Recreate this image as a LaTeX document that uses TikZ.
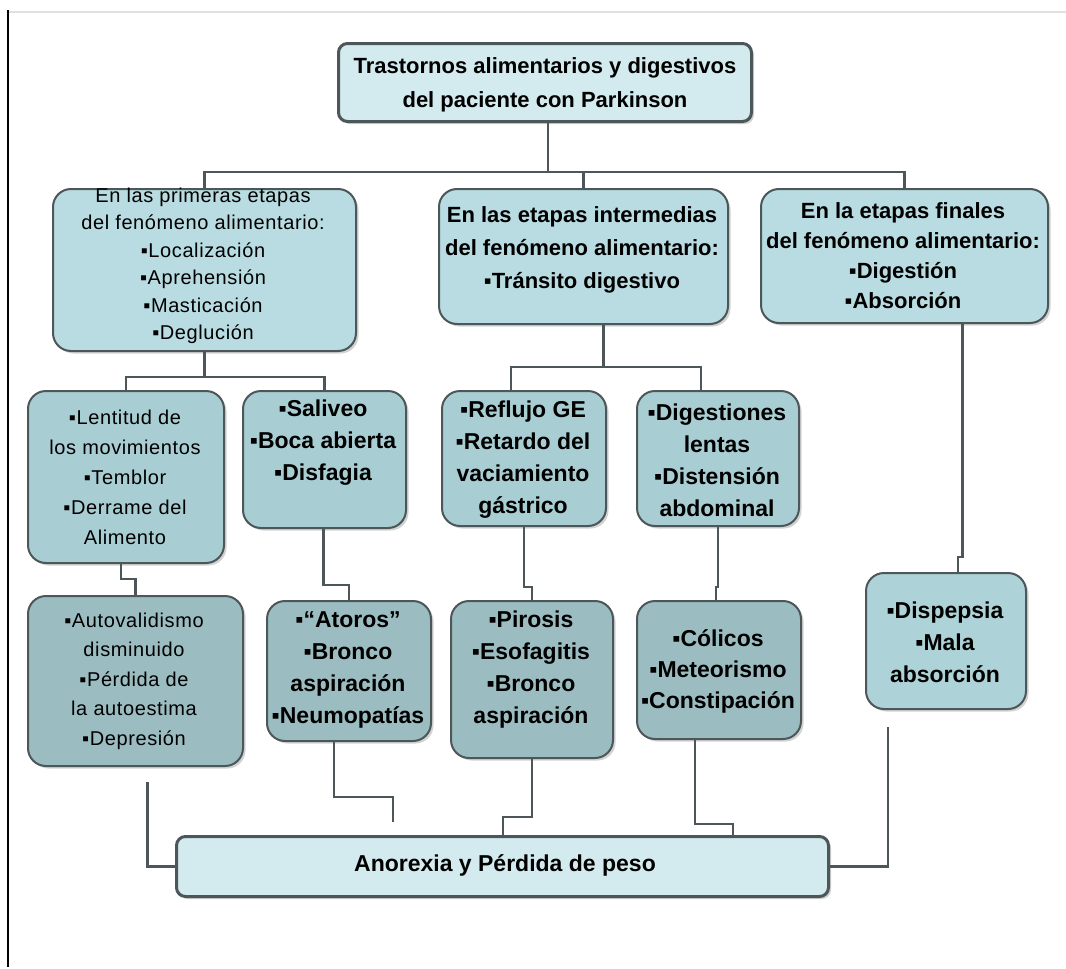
\documentclass[tikz,border=0pt]{standalone}
\usepackage{fontspec}
\setmainfont{Liberation Sans}
\newfontfamily\rsp[LetterSpace=3]{Liberation Sans}
\usetikzlibrary{shadows}
\definecolor{edge}{HTML}{4D5759}
\definecolor{cTop}{HTML}{D3EAEE}
\definecolor{cLa}{HTML}{B8DCE1}
\definecolor{cLb}{HTML}{A8CED3}
\definecolor{cLc}{HTML}{9BBDC1}
\definecolor{cDis}{HTML}{ADD2D7}
\newcommand\bul{▪}
\tikzset{
  base/.style={draw=edge, line width=2pt, rounded corners=18pt, anchor=north west, inner sep=0pt,
    drop shadow={shadow xshift=2.5pt, shadow yshift=-2.5pt, opacity=0.35}},
  topbox/.style={base, fill=cTop, line width=3pt, rounded corners=9pt},
  lvla/.style={base, fill=cLa},
  lvlb/.style={base, fill=cLb},
  lvlc/.style={base, fill=cLc},
  lvld/.style={base, fill=cDis},
  rtxt/.style={align=center, inner sep=0pt, font=\rsp\fontsize{20}{27.5}\selectfont},
  btxt/.style={align=center, inner sep=0pt, font=\bfseries\fontsize{23}{32}\selectfont},
  conn/.style={draw=edge, line width=2.5pt},
}
\begin{document}
\begin{tikzpicture}[x=1pt,y=-1pt]
\useasboundingbox[fill=white] (0,0) rectangle (1066,969);
\draw[black!12, line width=1.2pt] (8,12) -- (1066,12);
\draw[black, line width=1.5pt] (8,10) -- (8,967);

% boxes
\node[topbox, minimum width=413pt, minimum height=78pt] (top) at (337,42) {};
\node[lvla, minimum width=303pt, minimum height=162pt] (p1) at (52,188) {};
\node[lvla, minimum width=289pt, minimum height=135pt] (p2) at (438,188) {};
\node[lvla, minimum width=287pt, minimum height=134pt] (p3) at (760,188) {};
\node[lvlb, minimum width=196pt, minimum height=172pt] (a1) at (27,390) {};
\node[lvlb, minimum width=163pt, minimum height=137pt] (a2) at (242,390) {};
\node[lvlb, minimum width=164pt, minimum height=135pt] (b1) at (441,390) {};
\node[lvlb, minimum width=162pt, minimum height=135pt] (b2) at (636,390) {};
\node[lvlc, minimum width=215pt, minimum height=170pt] (c1) at (27,595) {};
\node[lvlc, minimum width=164pt, minimum height=140pt] (c2) at (266,600) {};
\node[lvlc, minimum width=162pt, minimum height=157pt] (c3) at (450,600) {};
\node[lvlc, minimum width=164pt, minimum height=138pt] (c4) at (636,600) {};
\node[lvld, minimum width=160pt, minimum height=136pt] (d1) at (865,572) {};
\node[topbox, minimum width=652pt, minimum height=60pt] (e) at (175,835) {};

% texts
\node[btxt, font=\bfseries\fontsize{22}{34}\selectfont] (ttop) at (545,85) {Trastornos alimentarios y digestivos\\del paciente con Parkinson};
\node[rtxt] (tp1) at (203,266) {En las primeras etapas\\del fenómeno alimentario:\\\bul Localización\\\bul Aprehensión\\\bul Masticación\\\bul Deglución};
\node[btxt, font=\bfseries\fontsize{22}{33}\selectfont] (tp2) at (582,250) {En las etapas intermedias\\del fenómeno alimentario:\\\bul Tránsito digestivo};
\node[btxt, font=\bfseries\fontsize{22}{30}\selectfont] (tp3) at (903,256) {En la etapas finales\\del fenómeno alimentario:\\\bul Digestión\\\bul Absorción};
\node[rtxt, font=\rsp\fontsize{20}{30}\selectfont] (ta1) at (125,477) {\bul Lentitud de\\los movimientos\\\bul Temblor\\\bul Derrame del\\Alimento};
\node[btxt] (ta2) at (323,443) {\bul Saliveo\\\bul Boca abierta\\\bul Disfagia};
\node[btxt] (tb1) at (523,460) {\bul Reflujo GE\\\bul Retardo del\\vaciamiento\\gástrico};
\node[btxt] (tb2) at (717,460) {\bul Digestiones\\lentas\\\bul Distensión\\abdominal};
\node[rtxt, font=\rsp\fontsize{20}{29.5}\selectfont] (tc1) at (134,681) {\bul Autovalidismo\\disminuido\\\bul Pérdida de\\la autoestima\\\bul Depresión};
\node[btxt] (tc2) at (348,670) {\bul “Atoros”\\\bul Bronco\\aspiración\\\bul Neumopatías};
\node[btxt] (tc3) at (531,670) {\bul Pirosis\\\bul Esofagitis\\\bul Bronco\\aspiración};
\node[btxt, font=\bfseries\fontsize{23}{31}\selectfont] (tc4) at (718,671) {\bul Cólicos\\\bul Meteorismo\\\bul Constipación};
\node[btxt] (td1) at (945,642) {\bul Dispepsia\\\bul Mala\\absorción};
\node[btxt] (te) at (505,865) {Anorexia y Pérdida de peso};

% connectors
\coordinate (j1) at (548,172);
\draw[conn] (top.south -| j1) -- (j1);
\draw[conn] (p1.north) -- (p1.north |- j1) -- (p3.north |- j1) -- (p3.north);
\draw[conn] (p2.north |- j1) -- (p2.north);
\draw[conn] (p1.south) -- ++(0,25) coordinate (h1);
\draw[conn] (a1.north) |- (h1) -| (a2.north);
\draw[conn] ([xshift=20pt]p2.south) -- ++(0,42) coordinate (h2);
\draw[conn] ([xshift=-13pt]b1.north) |- (h2) -| ([xshift=-17pt]b2.north);
\draw[conn] ([xshift=58pt]p3.south) -- ++(0,233) -| ([xshift=12pt]d1.north);
\draw[conn] ([xshift=-5pt]a1.south) -- ++(0,15) -| (c1.north);
\draw[conn] ([xshift=-1pt]a2.south) -- ++(0,56) -| (c2.north);
\draw[conn] (b1.south) -- ++(0,60) -| (c3.north);
\draw[conn] (b2.south) -- ++(0,60) -| ([xshift=-3pt]c4.north);
\draw[conn] ([shift={(12pt,-15pt)}]c1.south) |- (e.west);
\draw[conn] ([xshift=-15pt]c2.south) -- ++(0,55) -| ([shift={(218pt,13pt)}]e.north west);
\draw[conn] (c3.south) -- ++(0,58) -| ([xshift=328pt]e.north west);
\draw[conn] ([xshift=-24pt]c4.south) -- ++(0,84) -| ([xshift=558pt]e.north west);
\draw[conn] ([shift={(-58pt,-17pt)}]d1.south) |- (e.east);
\end{tikzpicture}
\end{document}
